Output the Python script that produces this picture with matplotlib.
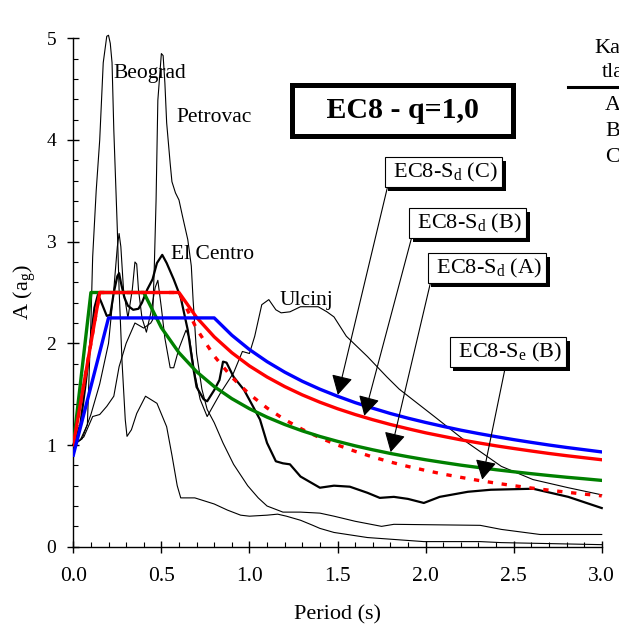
import numpy as np
import matplotlib
matplotlib.use("Agg")
from matplotlib import pyplot as plt
from matplotlib import patheffects as pe
from matplotlib.lines import Line2D
from matplotlib.ticker import MultipleLocator, FormatStrFormatter

plt.rcParams['font.family'] = ['Liberation Serif', 'DejaVu Serif']
plt.rcParams['mathtext.fontset'] = 'custom'
plt.rcParams['mathtext.rm'] = 'Liberation Serif'
plt.rcParams['mathtext.it'] = 'Liberation Serif:italic'
plt.rcParams['mathtext.bf'] = 'Liberation Serif:bold'

# EC8 design spectra (q=1,0), ground A, B, C and elastic B
sdA_T = [0.0, 0.1, 0.4, 0.5, 0.6, 0.7, 0.8, 0.9, 1.0, 1.1, 1.2, 1.3, 1.4, 1.5, 1.6, 1.7,
         1.8, 1.9, 2.0, 2.1, 2.2, 2.3, 2.4, 2.5, 2.6, 2.7, 2.8, 2.9, 3.0]
sdA_A = [1.0, 2.5, 2.5, 2.154, 1.908, 1.721, 1.575, 1.456, 1.357, 1.274, 1.202, 1.139, 1.084,
         1.036, 0.992, 0.953, 0.917, 0.885, 0.855, 0.828, 0.802, 0.779, 0.757, 0.737, 0.718,
         0.700, 0.683, 0.668, 0.652]

sdB_T = [0.0, 0.15, 0.6, 0.7, 0.8, 0.9, 1.0, 1.1, 1.2, 1.3, 1.4, 1.5, 1.6, 1.7, 1.8, 1.9,
         2.0, 2.1, 2.2, 2.3, 2.4, 2.5, 2.6, 2.7, 2.8, 2.9, 3.0]
sdB_A = [1.0, 2.5, 2.5, 2.255, 2.064, 1.908, 1.778, 1.669, 1.575, 1.493, 1.421, 1.357, 1.300,
         1.249, 1.202, 1.160, 1.120, 1.085, 1.051, 1.021, 0.992, 0.966, 0.941, 0.917, 0.895,
         0.875, 0.855]

sdC_T = [0.0, 0.2, 0.8, 0.9, 1.0, 1.1, 1.2, 1.3, 1.4, 1.5, 1.6, 1.7, 1.8, 1.9, 2.0, 2.1,
         2.2, 2.3, 2.4, 2.5, 2.6, 2.7, 2.8, 2.9, 3.0]
sdC_A = [0.9, 2.25, 2.25, 2.080, 1.939, 1.820, 1.717, 1.627, 1.549, 1.480, 1.417, 1.362, 1.310,
         1.264, 1.222, 1.183, 1.146, 1.113, 1.082, 1.053, 1.026, 1.000, 0.976, 0.954, 0.932]

seB_T = [0.0, 0.15, 0.6, 0.7, 0.8, 0.9, 1.0, 1.1, 1.2, 1.3, 1.4, 1.5, 1.6, 1.7, 1.8, 1.9,
         2.0, 2.1, 2.2, 2.3, 2.4, 2.5, 2.6, 2.7, 2.8, 2.9, 3.0]
seB_A = [1.0, 2.5, 2.5, 2.143, 1.875, 1.667, 1.5, 1.364, 1.25, 1.154, 1.071, 1.0, 0.938, 0.882,
         0.833, 0.789, 0.75, 0.714, 0.682, 0.652, 0.625, 0.6, 0.577, 0.556, 0.536, 0.517, 0.5]

# recorded spectra
beograd_T = [0.0, 0.04, 0.08, 0.1, 0.11, 0.13, 0.15, 0.17, 0.19, 0.2, 0.21, 0.22, 0.23, 0.25,
             0.26, 0.277, 0.295, 0.305, 0.33, 0.36, 0.41, 0.475, 0.53, 0.56, 0.59, 0.61, 0.69,
             0.8, 0.875, 0.95, 1.0, 1.1, 1.16, 1.21, 1.29, 1.36, 1.4, 1.48, 1.67, 1.99, 2.31,
             2.43, 3.0]
beograd_A = [1.0, 1.05, 1.2, 2.2, 2.85, 3.5, 4.0, 4.76, 5.02, 5.03, 4.95, 4.76, 4.1, 3.12,
             2.53, 1.81, 1.25, 1.085, 1.15, 1.31, 1.48, 1.41, 1.18, 0.90, 0.60, 0.48, 0.48,
             0.42, 0.36, 0.31, 0.30, 0.31, 0.32, 0.30, 0.26, 0.21, 0.18, 0.14, 0.09, 0.05, 0.05,
             0.04, 0.02]

petrovac_T = [0.0, 0.06, 0.11, 0.15, 0.19, 0.23, 0.26, 0.3, 0.35, 0.4, 0.44, 0.45, 0.46, 0.47,
              0.48, 0.5, 0.51, 0.52, 0.53, 0.55, 0.56, 0.58, 0.6, 0.62, 0.65, 0.67, 0.68, 0.7,
              0.73, 0.76, 0.8, 0.85, 0.91, 0.99, 1.05, 1.1, 1.19, 1.29, 1.4, 1.48, 1.6, 1.75,
              1.82, 2.31, 2.43, 2.65, 3.0]
petrovac_A = [1.0, 1.08, 1.28, 1.30, 1.38, 1.48, 1.77, 2.0, 2.2, 2.15, 2.2, 2.23, 2.76, 3.41,
              4.39, 4.85, 4.83, 4.56, 4.17, 3.77, 3.59, 3.48, 3.41, 3.25, 3.02, 2.76, 2.43, 1.9,
              1.55, 1.35, 1.22, 1.02, 0.81, 0.60, 0.48, 0.40, 0.34, 0.34, 0.33, 0.30, 0.25, 0.20,
              0.22, 0.21, 0.17, 0.12, 0.12]

ulcinj_T = [0.0, 0.05, 0.1, 0.15, 0.2, 0.23, 0.25, 0.26, 0.27, 0.285, 0.31, 0.335, 0.35, 0.36,
            0.37, 0.39, 0.415, 0.44, 0.465, 0.48, 0.5, 0.52, 0.55, 0.57, 0.6, 0.64, 0.66, 0.69,
            0.72, 0.76, 0.835, 0.91, 0.96, 1.0, 1.03, 1.07, 1.11, 1.15, 1.18, 1.23, 1.29, 1.39,
            1.44, 1.48, 1.55, 1.67, 1.78, 1.85, 2.05, 2.24, 2.43, 2.61, 2.81, 3.0]
ulcinj_A = [1.0, 1.06, 1.3, 1.6, 2.0, 2.53, 2.95, 3.08, 2.95, 2.53, 2.25, 2.53, 2.8, 2.78,
            2.53, 2.25, 2.11, 2.3, 2.55, 2.62, 2.35, 2.05, 1.76, 1.76, 1.95, 2.13, 2.05, 1.7,
            1.45, 1.28, 1.51, 1.71, 1.92, 1.90, 2.07, 2.38, 2.43, 2.33, 2.30, 2.31, 2.36, 2.36,
            2.31, 2.26, 2.07, 1.87, 1.67, 1.55, 1.28, 1.02, 0.79, 0.66, 0.58, 0.51]

elcentro_T = [0.0, 0.04, 0.07, 0.1, 0.12, 0.14, 0.16, 0.19, 0.21, 0.23, 0.25, 0.26, 0.27, 0.29,
              0.31, 0.34, 0.37, 0.39, 0.42, 0.45, 0.475, 0.505, 0.53, 0.57, 0.61, 0.65, 0.68,
              0.7, 0.74, 0.76, 0.8, 0.83, 0.85, 0.87, 0.91, 0.97, 1.02, 1.06, 1.1, 1.15, 1.19,
              1.23, 1.29, 1.35, 1.4, 1.48, 1.57, 1.67, 1.74, 1.82, 1.9, 1.99, 2.08, 2.24, 2.37,
              2.61, 2.71, 2.81, 3.0]
elcentro_A = [1.0, 1.2, 1.6, 2.05, 2.35, 2.48, 2.4, 2.27, 2.28, 2.5, 2.66, 2.69, 2.6, 2.45,
              2.37, 2.33, 2.34, 2.4, 2.53, 2.63, 2.79, 2.87, 2.79, 2.63, 2.45, 2.13, 1.77, 1.57,
              1.45, 1.43, 1.54, 1.64, 1.82, 1.81, 1.67, 1.54, 1.38, 1.25, 1.02, 0.84, 0.82, 0.81,
              0.69, 0.63, 0.58, 0.60, 0.59, 0.53, 0.48, 0.49, 0.47, 0.43, 0.49, 0.54, 0.56, 0.57,
              0.53, 0.49, 0.38]

record_names = ['Beograd', 'Petrovac', 'El Centro', 'Ulcinj']
record_label_pos = [(0.227, 4.61), (0.585, 4.18), (0.557, 2.83), (1.17, 2.38)]
soil_classes = ['A', 'B', 'C']


fig = plt.figure(figsize=(6.19, 6.25), dpi=100)
ax = fig.add_axes([0.1184, 0.1253, 0.8537, 0.8134])

thin = dict(color='k', lw=0.8, clip_on=False, zorder=2)
ax.plot(beograd_T, beograd_A, **thin)
ax.plot(petrovac_T, petrovac_A, **thin)
ax.plot(ulcinj_T, ulcinj_A, **thin)
ax.plot(elcentro_T, elcentro_A, color='k', lw=1.6, clip_on=False, zorder=2)

ax.plot(seB_T, seB_A, color='#ff0000', lw=2.4, ls=(0, (1.6, 2.6)), zorder=3)
ax.plot(sdA_T, sdA_A, color='#008000', lw=2.4, zorder=3)
ax.plot(sdB_T, sdB_A, color='#ff0000', lw=2.4, zorder=3)
ax.plot(sdC_T, sdC_A, color='#0000ff', lw=2.4, zorder=3)

for name, (tx, ty) in zip(record_names, record_label_pos):
    ax.text(tx, ty, name, fontsize=15.5, ha='left', va='baseline', zorder=4)

# title box
ax.text(1.869, 4.29, '   EC8 - q=1,0   ', fontsize=21.5, fontweight='bold', ha='center',
        va='center', zorder=6,
        bbox=dict(boxstyle='square,pad=0.39', fc='w', ec='k', lw=3.6))

# arrows with shadowed labels
arrow_style = dict(arrowstyle='-|>,head_length=0.6,head_width=0.33', mutation_scale=20,
                   lw=0.8, color='k', shrinkA=0, shrinkB=1)
notes = [
    (r' EC8-S$_{\mathrm{d}}$ (C) ', (2.102, 3.682), (1.5, np.interp(1.5, sdC_T, sdC_A)), (0, 0)),
    (r' EC8-S$_{\mathrm{d}}$ (B) ', (2.239, 3.181), (1.65, np.interp(1.65, sdB_T, sdB_A)), (0, 0)),
    (r' EC8-S$_{\mathrm{d}}$ (A) ', (2.349, 2.738), (1.8, np.interp(1.8, sdA_T, sdA_A)), (0, 0)),
    (r' EC8-S$_{\mathrm{e}}$ (B) ', (2.469, 1.912), (2.32, np.interp(2.32, seB_T, seB_A)), (0.48, 0)),
]
for label, xytext, xy, rel in notes:
    t = ax.annotate(label, xy=xy, xytext=xytext, textcoords='data', fontsize=16,
                    ha='center', va='center', zorder=6,
                    bbox=dict(boxstyle='square,pad=0.15', fc='w', ec='k', lw=0.8),
                    arrowprops=dict(relpos=rel, **arrow_style))
    t.get_bbox_patch().set_path_effects([
        pe.SimplePatchShadow(offset=(2.5, -2.5), shadow_rgbFace='k', alpha=1.0),
        pe.Normal()])

ax.set_xlim(0, 3)
ax.set_ylim(0, 5)
ax.xaxis.set_major_locator(MultipleLocator(0.5))
ax.xaxis.set_minor_locator(MultipleLocator(0.1))
ax.yaxis.set_major_locator(MultipleLocator(1))
ax.yaxis.set_minor_locator(MultipleLocator(0.2))
ax.xaxis.set_major_formatter(FormatStrFormatter('%.1f'))
ax.yaxis.set_major_formatter(FormatStrFormatter('%d'))

for s in ['top', 'right']:
    ax.spines[s].set_visible(False)
for s in ['left', 'bottom']:
    ax.spines[s].set_linewidth(1.0)

ax.tick_params(which='major', direction='inout', length=8.6, width=1.0)
ax.tick_params(which='minor', direction='in', length=3.6, width=0.8)
ax.tick_params(axis='x', which='major', labelsize=15.5, pad=10.5)
ax.tick_params(axis='y', which='major', labelsize=14, pad=8)

ax.set_xlabel('Period (s)', fontsize=16, labelpad=13.5)
ax.set_ylabel(r'A (a$_{\mathrm{g}}$)', fontsize=16, labelpad=6)

# soil category table at the right edge (cut off in the original)
W, H = 619.0, 625.0
fig.text(613 / W, 1 - 53 / H, 'Kat.', fontsize=16, ha='center', va='baseline')
fig.text(613 / W, 1 - 77 / H, 'tla', fontsize=16, ha='center', va='baseline')
fig.add_artist(Line2D([568 / W, 1.0], [1 - 87 / H, 1 - 87 / H], color='k', lw=2.2))
for i, c in enumerate(soil_classes):
    fig.text(613 / W, 1 - (110 + 26 * i) / H, c, fontsize=16, ha='center', va='baseline')

fig.savefig('out.png', dpi=100)
